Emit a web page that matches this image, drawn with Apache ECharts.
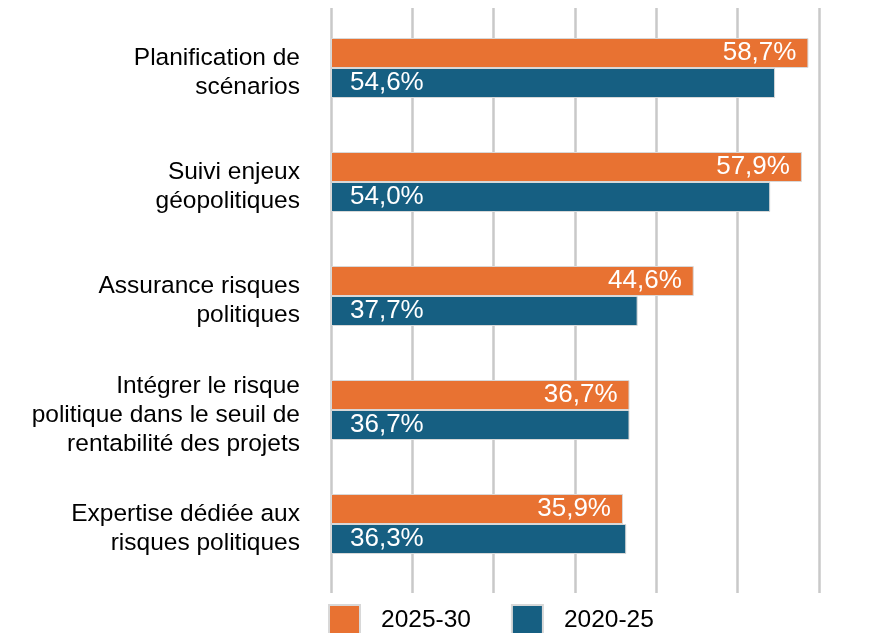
<!DOCTYPE html>
<html><head><meta charset="utf-8">
<script src="https://cdn.jsdelivr.net/npm/echarts@6/dist/echarts.min.js"></script>
<style>html,body{margin:0;padding:0;background:#fff}#c{width:895px;height:633px}</style>
</head><body><div id="c"></div>
<script>
const categories = [
  "Planification de\nscénarios",
  "Suivi enjeux\ngéopolitiques",
  "Assurance risques\npolitiques",
  "Intégrer le risque\npolitique dans le seuil de\nrentabilité des projets",
  "Expertise dédiée aux\nrisques politiques"
];
const seriesNames = ["2025-30", "2020-25"];
const values2025 = [58.7, 57.9, 44.6, 36.7, 35.9];
const values2020 = [54.6, 54.0, 37.7, 36.7, 36.3];
const colors = ["#E87232", "#165F82"];

const fmt = p => p.value.toFixed(1).replace('.', ',') + '%';
const hiddenValueAxis = (g) => ({
  type: 'value', min: 0, max: 60, interval: 10, gridIndex: g,
  axisLabel: { show: false }, axisLine: { show: false }, axisTick: { show: false },
  splitLine: { show: false }
});
const chart = echarts.init(document.getElementById('c'));
chart.setOption({
  animation: false,
  textStyle: { fontFamily: 'Liberation Sans, Arial, sans-serif' },
  grid: [
    { left: 331, right: 76, top: 11, bottom: 52 },
    { left: 331, right: 76, top: 8, bottom: 40 },
    { left: 331, right: 76, top: 16, bottom: 47 }
  ],
  xAxis: [
    hiddenValueAxis(0),
    {
      type: 'value', min: 0, max: 60, interval: 10, gridIndex: 1,
      axisLabel: { show: false }, axisLine: { show: false }, axisTick: { show: false },
      splitLine: { show: true, lineStyle: { color: '#c9c9c9', width: 2.5 } }
    },
    hiddenValueAxis(2)
  ],
  yAxis: [
    {
      type: 'category', data: categories, inverse: true, gridIndex: 0,
      axisLine: { show: false }, axisTick: { show: false }, axisLabel: { show: false }
    },
    {
      type: 'value', gridIndex: 1, show: false, min: 0, max: 1
    },
    {
      type: 'category', data: categories, inverse: true, gridIndex: 2,
      axisLine: { show: false }, axisTick: { show: false },
      axisLabel: { color: '#000', fontSize: 24.5, lineHeight: 29, margin: 31, align: 'right' }
    }
  ],
  legend: {
    left: 328, top: 604, padding: 0, itemWidth: 31, itemHeight: 30, itemGap: 40, icon: 'rect',
    textStyle: { fontSize: 24.5, color: '#000', padding: [6, 0, 0, 16] },
    data: seriesNames
  },
  series: [
    {
      name: seriesNames[0], type: 'bar', data: values2025, barWidth: 30, barGap: '0%',
      itemStyle: { color: colors[0], borderColor: '#d8d8d8', borderWidth: 1 },
      label: { show: true, position: 'insideRight', distance: 12, color: '#fff', fontSize: 26, formatter: fmt }
    },
    {
      name: seriesNames[1], type: 'bar', data: values2020, barWidth: 30, barGap: '0%',
      itemStyle: { color: colors[1], borderColor: '#d8d8d8', borderWidth: 1 },
      label: { show: true, position: 'insideLeft', distance: 19, color: '#fff', fontSize: 26, formatter: fmt }
    }
  ]
});
</script></body></html>
